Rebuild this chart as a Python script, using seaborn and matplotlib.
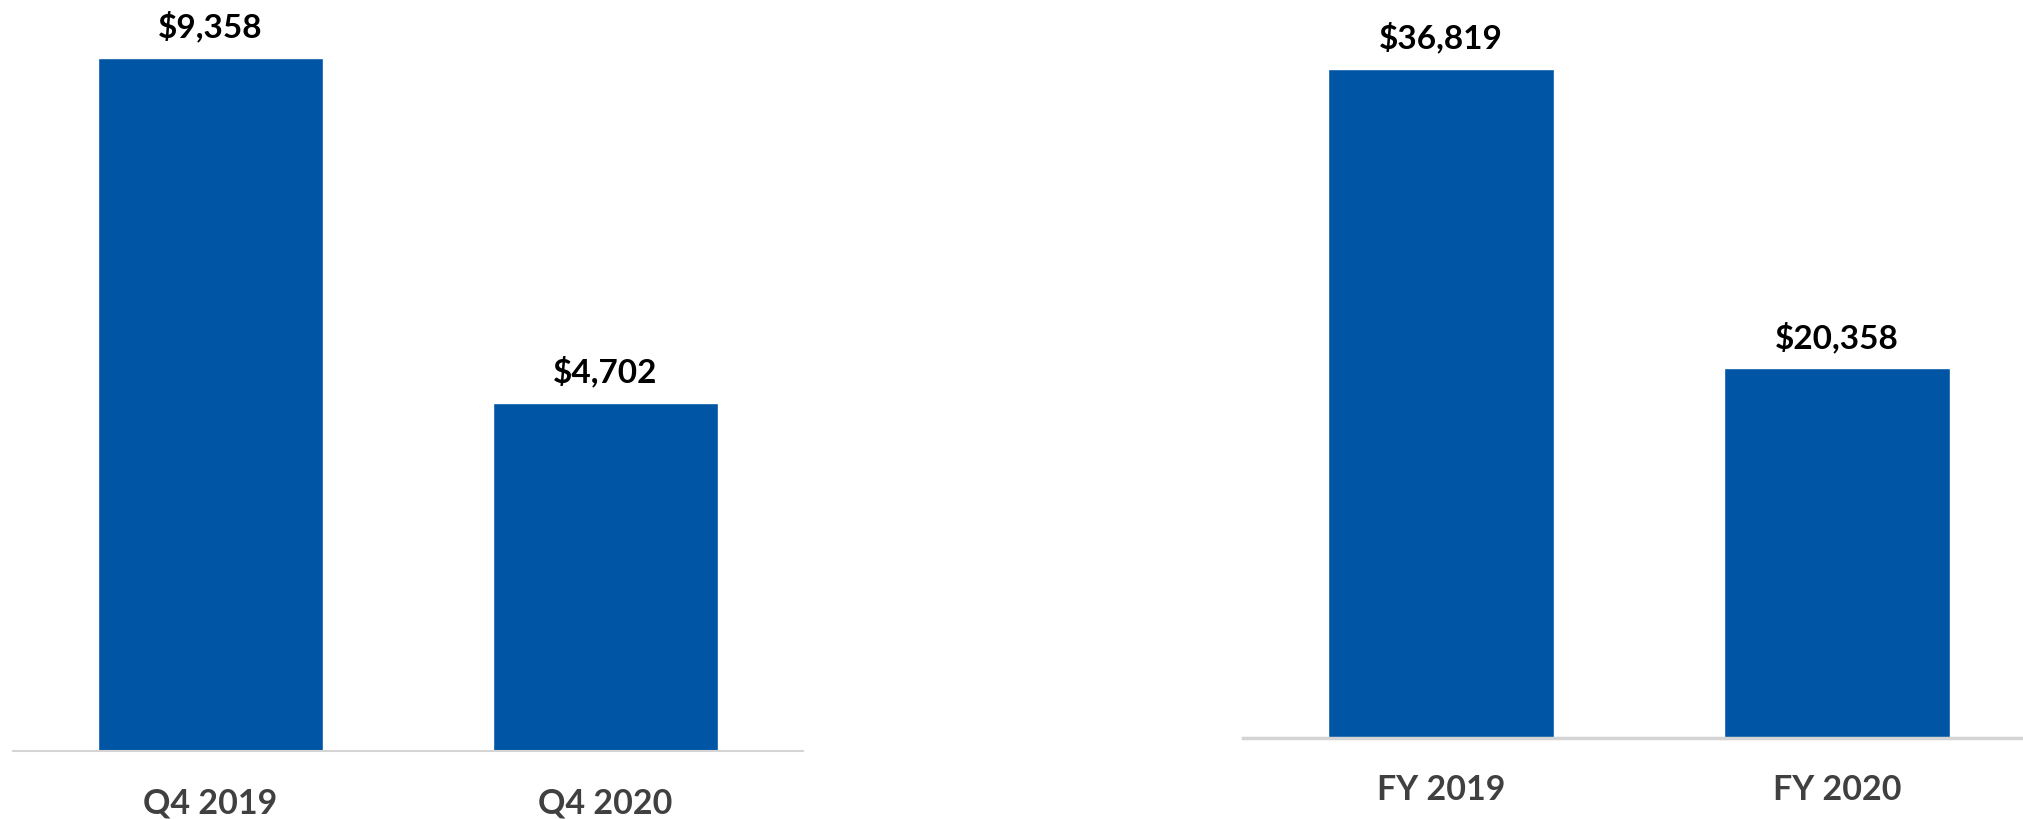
import matplotlib
matplotlib.use("Agg")
import matplotlib.pyplot as plt
import seaborn as sns

quarter_labels = ["Q4 2019", "Q4 2020"]
quarter_values = [9358, 4702]
year_labels = ["FY 2019", "FY 2020"]
year_values = [36819, 20358]

bar_color = "#0055A5"
tick_color = "#404040"

sns.set_style("white")
plt.rcParams["font.family"] = ["Lato", "DejaVu Sans"]

W, H = 2023, 819
fig = plt.figure(figsize=(W / 100, H / 100), dpi=100)


def add_panel(left_px, right_px, base_px, top_px, labels, values, xmax, line_w):
    ax = fig.add_axes([left_px / W, (H - base_px) / H,
                       (right_px - left_px) / W, base_px / H])
    sns.barplot(x=labels, y=values, color=bar_color, saturation=1,
                width=0.57, ax=ax)
    # bar top sits at top_px; scale the y-axis so the tallest bar lands there
    ax.set_ylim(0, max(values) * base_px / (base_px - top_px))
    ax.set_xlim(-0.5, xmax)
    for p, v in zip(ax.patches, values):
        ax.annotate("${:,}".format(v), (p.get_x() + p.get_width() / 2, p.get_height()),
                    xytext=(0, 11), textcoords="offset points",
                    ha="center", va="bottom", fontsize=24, fontweight="bold",
                    color="black")
    sns.despine(ax=ax, left=True, top=True, right=True)
    ax.spines["bottom"].set_color("#d4d4d4")
    ax.spines["bottom"].set_linewidth(line_w)
    ax.set_yticks([])
    ax.set_xlabel("")
    ax.set_ylabel("")
    ax.tick_params(axis="x", length=0, pad=26, labelsize=24.5, colors=tick_color)
    for t in ax.get_xticklabels():
        t.set_fontweight("bold")
    return ax


add_panel(13, 803, 751, 58, quarter_labels, quarter_values, 1.5, 1.5)
add_panel(1243, 2023, 738, 69, year_labels, year_values, 1.47, 2.5)

fig.savefig("out.png", dpi=100, facecolor="white")
